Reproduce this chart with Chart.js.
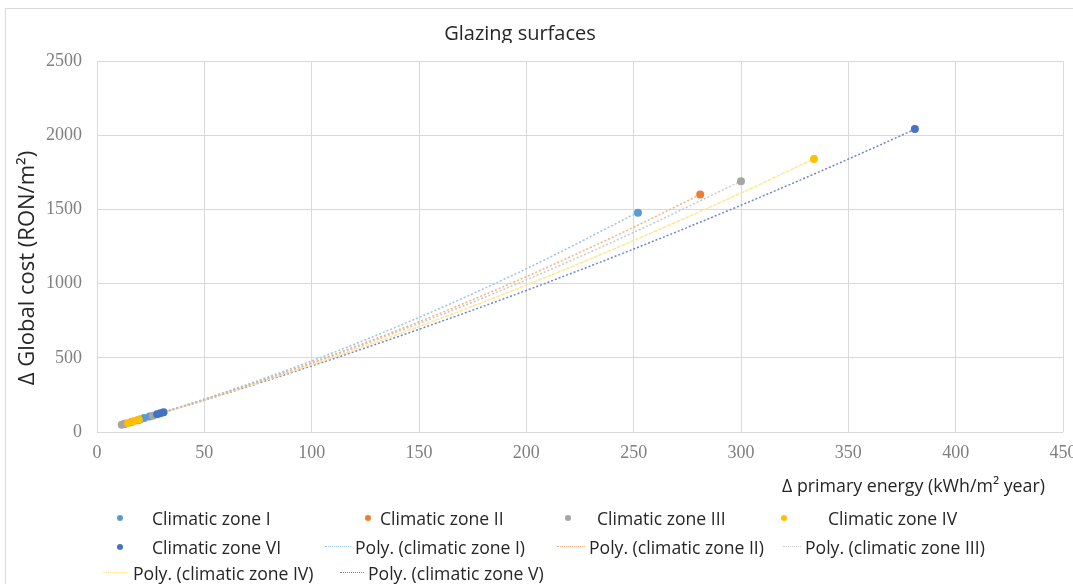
<!DOCTYPE html>
<html><head><meta charset="utf-8">
<script src="https://cdn.jsdelivr.net/npm/chart.js@4.4.1/dist/chart.umd.min.js"></script>
<style>
html,body{margin:0;padding:0;background:#fff;}
#wrap{position:relative;width:1073px;height:584px;overflow:hidden;background:#fff;}
#frame{position:absolute;left:5px;top:8px;width:1200px;height:700px;border-left:1px solid #d9d9d9;border-top:1px solid #d9d9d9;}
#c{position:absolute;left:0;top:0;}
.txt{position:absolute;font-family:'Open Sans',sans-serif;color:#404040;white-space:nowrap;}
#title{left:370px;width:300px;top:19px;height:24px;overflow:hidden;text-align:center;font-size:20px;line-height:28px;color:#262626;}
#ytitle{left:-125px;width:300px;top:253px;height:30px;line-height:30px;text-align:center;font-size:22px;transform:rotate(-90deg);color:#262626;}
#xtitle{left:782px;top:472px;font-size:17.8px;line-height:26px;color:#262626;}
.lg{position:absolute;font-family:'Open Sans',sans-serif;font-size:17.6px;color:#262626;white-space:nowrap;line-height:24px;}
.dot{position:absolute;width:6px;height:6px;border-radius:50%;}
.dash{position:absolute;height:0;border-top:1.5px dotted;}
</style></head>
<body><div id="wrap">
<div id="frame"></div>
<canvas id="c" width="1073" height="584"></canvas>
<div id="title" class="txt">Glazing surfaces</div>
<div id="ytitle" class="txt">Δ Global cost (RON/m²)</div>
<div id="xtitle" class="txt">Δ primary energy (kWh/m² year)</div>
<div id="legend"></div>
</div>
<script>
// ---- data ----
const xTicks = [0, 50, 100, 150, 200, 250, 300, 350, 400, 450];
const yTicks = [0, 500, 1000, 1500, 2000, 2500];

const zone1X = [20, 22, 24.5, 252];
const zone1Y = [85, 94, 104, 1478];
const zone2X = [13, 16, 19, 281];
const zone2Y = [55, 67, 80, 1600];
const zone3X = [11.5, 13, 26, 300];
const zone3Y = [49, 55, 110, 1690];
const zone4X = [14.5, 17, 19.5, 334];
const zone4Y = [61, 72, 83, 1840];
const zone6X = [28, 29.5, 31, 381];
const zone6Y = [119, 126, 133, 2042];

const poly1X = [12, 50, 100, 150, 200, 252];
const poly1Y = [50, 222, 479, 772, 1100, 1480];
const poly2X = [12, 50, 100, 150, 200, 250, 281];
const poly2Y = [50, 219, 467, 743, 1047, 1380, 1600];
const poly3X = [12, 50, 100, 150, 200, 250, 300];
const poly3Y = [50, 218, 462, 731, 1025, 1345, 1690];
const poly4X = [12, 50, 100, 150, 200, 250, 300, 334];
const poly4Y = [50, 216, 453, 711, 990, 1290, 1610, 1840];
const poly5X = [12, 50, 100, 150, 200, 250, 300, 350, 381];
const poly5Y = [50, 214, 445, 692, 954, 1233, 1528, 1839, 2040];

const pts = (xs, ys) => xs.map((x, i) => ({x: x, y: ys[i]}));

const C1 = '#5B9BD5', C2 = '#ED7D31', C3 = '#A5A5A5', C4 = '#FFC000', C6 = '#4472C4';

function scatterDs(label, xs, ys, color, order) {
  return {label, data: pts(xs, ys), showLine: false, pointRadius: 4, pointHoverRadius: 4,
    backgroundColor: color, borderColor: color, pointBorderWidth: 0, order: order};
}
function polyDs(label, xs, ys, color, dash) {
  return {label, data: pts(xs, ys), showLine: true, pointRadius: 0, borderColor: color,
    backgroundColor: color, borderWidth: 1.5, borderDash: dash, cubicInterpolationMode: 'monotone', order: 10, fill: false};
}

const datasets = [
  scatterDs('Climatic zone I', zone1X, zone1Y, C1, 5),
  scatterDs('Climatic zone II', zone2X, zone2Y, C2, 4),
  scatterDs('Climatic zone III', zone3X, zone3Y, C3, 3),
  scatterDs('Climatic zone IV', zone4X, zone4Y, C4, 2),
  scatterDs('Climatic zone VI', zone6X, zone6Y, C6, 1),
  polyDs('Poly. (climatic zone I)', poly1X, poly1Y, '#9DC3E6', [2, 2]),
  polyDs('Poly. (climatic zone II)', poly2X, poly2Y, '#F4B183', [2, 2]),
  polyDs('Poly. (climatic zone III)', poly3X, poly3Y, '#C9C9C9', [2, 2]),
  polyDs('Poly. (climatic zone IV)', poly4X, poly4Y, '#FFE699', [4, 1]),
  polyDs('Poly. (climatic zone V)', poly5X, poly5Y, '#6F86CF', [2, 2])
];

const tickFont = {family: "'Liberation Serif', serif", size: 18};

new Chart(document.getElementById('c'), {
  type: 'scatter',
  data: {datasets},
  options: {
    responsive: false, animation: false, devicePixelRatio: 1,
    layout: {padding: {left: 0, right: 10, top: 61, bottom: 112}},
    plugins: {legend: {display: false}, tooltip: {enabled: false}, title: {display: false}},
    scales: {
      x: {
        type: 'linear', min: 0, max: 450,
        afterBuildTicks: s => { s.ticks = xTicks.map(v => ({value: v})); },
        afterFit: s => { s.height = 40; s.paddingLeft = 0; s.paddingRight = 0; },
        grid: {color: '#d9d9d9', lineWidth: 1, drawTicks: false},
        border: {display: false},
        ticks: {font: tickFont, color: '#7f7f7f', padding: 10, maxRotation: 0, autoSkip: false,
          callback: v => String(v)}
      },
      y: {
        type: 'linear', min: 0, max: 2500,
        afterBuildTicks: s => { s.ticks = yTicks.map(v => ({value: v})); },
        afterFit: s => { s.width = 97; s.paddingTop = 0; s.paddingBottom = 0; },
        grid: {color: '#d9d9d9', lineWidth: 1, drawTicks: false},
        border: {display: false},
        ticks: {font: tickFont, color: '#7f7f7f', padding: 15, autoSkip: false,
          callback: v => String(v)}
      }
    }
  }
});

// ---- HTML legend built from the datasets ----
const legendPos = [
  [120, 152, 518], [368, 380, 518], [568, 597, 518], [784, 828, 518],
  [120, 152, 547],
  [325, 355, 547], [557, 589, 547], [783, 805, 547],
  [103, 133, 573], [340, 368, 573]
];
const lg = document.getElementById('legend');
datasets.forEach((ds, i) => {
  const [mx, tx, cy] = legendPos[i];
  if (ds.showLine) {
    const d = document.createElement('div');
    d.className = 'dash';
    d.style.left = mx + 'px';
    d.style.width = (tx - mx - 4) + 'px';
    d.style.top = (cy - 1) + 'px';
    d.style.borderTopColor = ds.borderColor;
    lg.appendChild(d);
  } else {
    const d = document.createElement('div');
    d.className = 'dot';
    d.style.left = (mx - 3) + 'px';
    d.style.top = (cy - 3) + 'px';
    d.style.background = ds.backgroundColor;
    lg.appendChild(d);
  }
  const t = document.createElement('div');
  t.className = 'lg';
  t.textContent = ds.label;
  t.style.left = tx + 'px';
  t.style.top = (cy - 12) + 'px';
  lg.appendChild(t);
});
</script>
</body></html>
